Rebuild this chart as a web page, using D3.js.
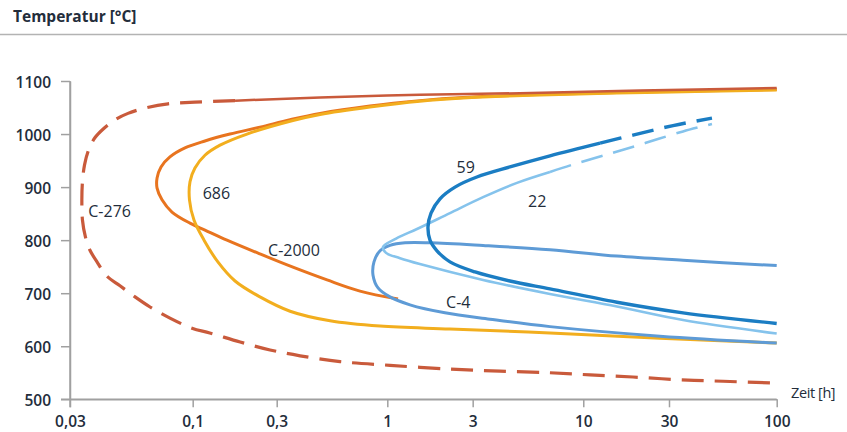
<!DOCTYPE html>
<html>
<head>
<meta charset="utf-8">
<script src="https://cdn.jsdelivr.net/npm/d3@7"></script>
<style>
  body { margin: 0; background: #fff; }
  svg { display: block; }
  text { font-family: "Open Sans", sans-serif; fill: #232d3b; }
</style>
</head>
<body>
<svg id="chart" width="847" height="432"></svg>
<script>
// Time-temperature-sensitization curves of nickel alloys: [time in h, temperature in °C]
const c276 = [[92.8,531],[54.9,534],[33.2,537],[18.9,542],[10.9,546],[6.96,550],[4.04,553],[2.24,557],
  [1.035,564],[0.598,571],[0.387,582],[0.275,593],[0.186,608],[0.125,625],[0.0993,634],[0.080,653],
  [0.0658,674],[0.0568,693],[0.049,714],[0.0431,732],[0.0391,759],[0.0365,781],[0.0349,806],[0.0339,838],
  [0.0337,876],[0.0339,910],[0.0346,942],[0.0360,970],[0.0383,993],[0.0419,1011],[0.0467,1027],[0.053,1039],
  [0.0626,1049],[0.0785,1057],[0.103,1060],[0.174,1063],[0.481,1069],[1.52,1074],[5.02,1077],[20.7,1082],[100,1087]];
const c2000 = [[1.148,689],[0.743,704],[0.519,725],[0.358,749],[0.241,774],[0.1566,800],[0.1174,819],
  [0.0974,832],[0.0816,853],[0.074,876],[0.0705,898],[0.0705,917],[0.0733,938],[0.080,957],[0.0927,974],
  [0.1174,987],[0.1628,1000],[0.241,1013],[0.347,1027],[0.481,1039],[0.828,1053],[1.52,1063],[2.65,1069],
  [6.24,1074.5],[26.7,1080],[100,1084]];
const alloy686 = [[100,606],[26.7,615],[6.96,625],[2.24,632.5],[0.924,638],[0.536,648],[0.347,666],
  [0.241,693],[0.174,723],[0.139,759],[0.116,800],[0.1017,838],[0.0969,876],[0.0974,910],[0.103,936],
  [0.1174,960],[0.143,979],[0.2034,1000],[0.358,1025.5],[0.481,1037],[0.828,1051],[1.52,1062],[2.65,1068],
  [6.24,1073.6],[26.7,1079],[100,1083]];
const alloy59 = [[48.5,1030],[31.4,1016],[18.9,998],[12.4,983],[6.96,959],[4.50,938],[3.14,919],[2.39,900],
  [1.97,878],[1.755,851],[1.688,825],[1.732,800],[1.895,780],[2.24,759],[3.08,740],[4.50,723],[6.96,708],
  [15.4,683],[35.1,663],[100,643]];
const alloy22 = [[48.5,1019],[35.1,1005],[22.1,983],[13.7,962],[8.84,942],[6.96,928.5],[4.86,908],[3.36,881],
  [2.24,851],[1.465,821],[1.12,803],[0.954,787],[0.986,776],[1.178,766],[1.52,755],[3.36,725],[6.96,698.5],
  [15.4,675],[35.1,649.5],[100,624]];
const c4 = [[100,752],[35.1,762],[15.4,770],[6.96,782],[3.36,790],[1.732,795],[1.256,795],[1.035,790],
  [0.924,780],[0.865,759],[0.856,734],[0.904,710],[1.035,693],[1.339,678],[2.10,663],[3.62,651],[6.96,637],
  [26.7,619],[100,606]];

// Curve labels, anchored at [time, temperature]
const labelNames = ["C-276", "686", "C-2000", "59", "22", "C-4"];
const labelTimes = [0.0359, 0.114, 0.268, 2.44, 5.48, 2.13];
const labelTemps = [843, 878, 771, 926, 862, 672];

// Axis ticks
const xTicks = [0.03, 0.1, 0.3, 1, 3, 10, 30, 100];
const xTickLabels = ["0,03", "0,1", "0,3", "1", "3", "10", "30", "100"];
const yTicks = [500, 600, 700, 800, 900, 1000, 1100];

(function draw() {
  const svg = d3.select("#chart");
  const plotLeft = 70, plotRight = 776.7, plotTop = 81, plotBottom = 399.3;
  const W = plotRight - plotLeft;
  // tick placement along the time axis (fraction of axis length)
  const xStops = [0, 0.1736, 0.2925, 0.4490, 0.5698, 0.7263, 0.8476, 1];

  const xLog = d3.scaleLinear()
    .domain(xTicks.map(Math.log10))
    .range(xStops.map(f => plotLeft + f * W));
  const x = t => xLog(Math.log10(t));
  const y = d3.scaleLinear().domain([500, 1100]).range([plotBottom, plotTop]);

  // header
  svg.append("text").attr("x", 13).attr("y", 22)
    .attr("font-size", 15.5).attr("font-weight", 700).text("Temperatur [°C]");
  svg.append("line").attr("x1", 0).attr("x2", 847).attr("y1", 34.5).attr("y2", 34.5)
    .attr("stroke", "#b3b3b3").attr("stroke-width", 1.5);

  // axes
  const axisColor = "#a0a0a0";
  const yAxis = svg.append("g").attr("transform", `translate(${plotLeft},0)`)
    .call(d3.axisLeft(y).tickValues(yTicks).tickFormat(d3.format("d"))
      .tickSize(9).tickSizeOuter(0).tickPadding(10));
  const xAxis = svg.append("g").attr("transform", `translate(0,${plotBottom})`)
    .call(d3.axisBottom(xLog).tickValues(xTicks.map(Math.log10)).tickSize(8).tickSizeOuter(0)
      .tickPadding(9).tickFormat((d, i) => xTickLabels[i]));
  [yAxis, xAxis].forEach(g => {
    g.attr("font-family", null).attr("font-size", null);
    g.selectAll("path.domain").attr("stroke", axisColor).attr("stroke-width", 1.5);
    g.selectAll(".tick line").attr("stroke", axisColor).attr("stroke-width", 1.5);
    g.selectAll(".tick text").attr("font-size", 15.5).attr("font-weight", 600).attr("fill", "#232d3b");
  });
  yAxis.selectAll(".tick text").attr("dy", "0.42em");
  // y axis line continues down to form the first time tick
  svg.append("line").attr("x1", plotLeft).attr("x2", plotLeft).attr("y1", plotTop).attr("y2", plotBottom + 8)
    .attr("stroke", axisColor).attr("stroke-width", 1.5);
  svg.append("line").attr("x1", plotLeft - 9).attr("x2", plotRight).attr("y1", plotBottom).attr("y2", plotBottom)
    .attr("stroke", axisColor).attr("stroke-width", 1.5);

  svg.append("text").attr("x", 791).attr("y", 398).attr("font-size", 14.5).attr("font-weight", 500)
    .attr("letter-spacing", -0.4).text("Zeit [h]");

  // curves
  const line = d3.line().x(d => x(d[0])).y(d => y(d[1])).curve(d3.curveCatmullRom.alpha(0.5));
  // dashedTo: index where the dashed stretch (from the first point) turns solid
  const series = [
    { data: c2000,    color: "#e8741f", width: 3.0, dashedTo: -1 },
    { data: alloy686, color: "#f2ae1e", width: 3.0, dashedTo: -1 },
    { data: c276,     color: "#c95a3b", width: 3.2, dashedTo: 35, solidWidth: 2.5 },
    { data: c4,       color: "#5e9bd6", width: 3.0, dashedTo: -1 },
    { data: alloy22,  color: "#85c3ec", width: 2.6, dashedTo: 5 },
    { data: alloy59,  color: "#1b7dc3", width: 3.4, dashedTo: 3 }
  ];
  const gCurves = svg.append("g").attr("fill", "none").attr("stroke-linecap", "butt");
  series.forEach(s => {
    const k = s.dashedTo;
    const solid = k >= 0 ? s.data.slice(k) : s.data;
    gCurves.append("path").attr("d", line(solid))
      .attr("stroke", s.color).attr("stroke-width", s.solidWidth || s.width);
    if (k > 0) {
      const dashed = s.data.slice(0, k + 1).reverse();
      gCurves.append("path").attr("d", line(dashed))
        .attr("stroke", s.color).attr("stroke-width", s.width)
        .attr("stroke-dasharray", "22 11");
    }
  });

  // curve labels
  svg.append("g").selectAll("text").data(labelNames).join("text")
    .attr("x", (d, i) => x(labelTimes[i]))
    .attr("y", (d, i) => y(labelTemps[i]))
    .attr("font-size", 16).attr("font-weight", 500)
    .text(d => d);
})();
</script>
</body>
</html>
